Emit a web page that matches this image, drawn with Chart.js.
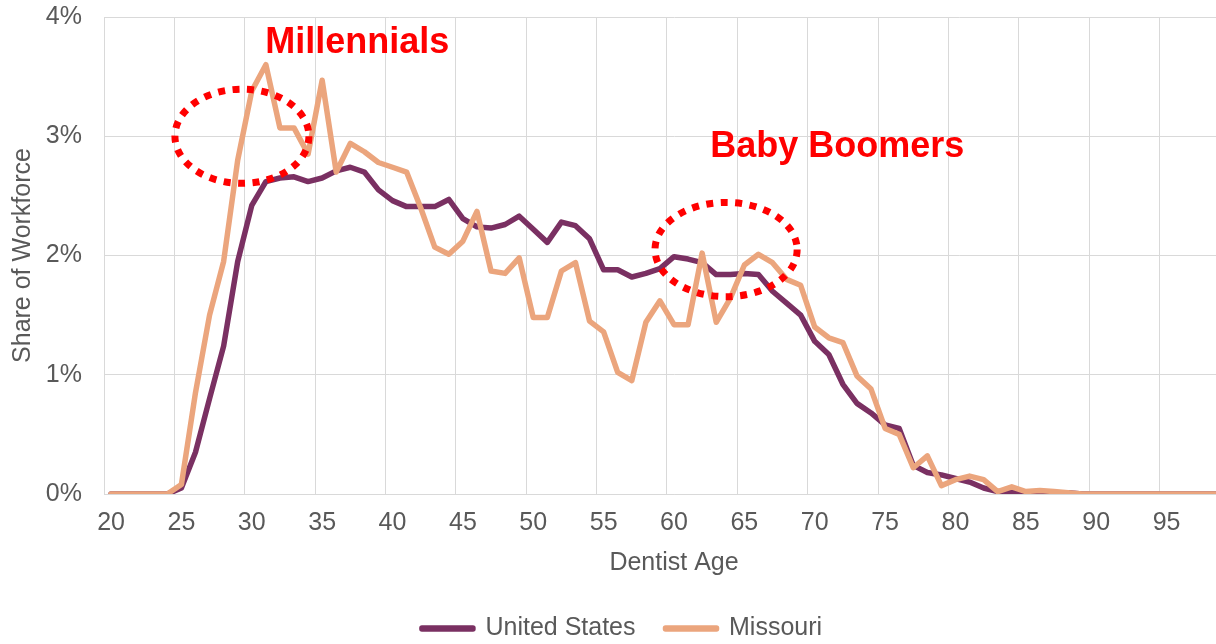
<!DOCTYPE html>
<html>
<head>
<meta charset="utf-8">
<script src="https://cdn.jsdelivr.net/npm/chart.js@4.4.1/dist/chart.umd.min.js"></script>
<style>
  html, body { margin: 0; padding: 0; background: #fff; overflow: hidden; }
  /* the source picture is cropped on the right and bottom, so the canvas is a bit larger than the view */
  #view { width: 1216px; height: 644px; overflow: hidden; }
  #wrap { width: 1244px; height: 651px; position: relative; }
</style>
</head>
<body>
<div id="view"><div id="wrap"><canvas id="dentistChart"></canvas></div></div>
<script>
  // ages 20..100, one category per year
  const ages = Array.from({ length: 81 }, (_, i) => String(20 + i));

  // share of workforce, in %
  const unitedStates = [
    0, 0, 0, 0, 0,
    0.05, 0.35, 0.80, 1.24, 1.95,
    2.42, 2.62, 2.65, 2.66, 2.62,
    2.65, 2.71, 2.74, 2.70, 2.55,
    2.46, 2.41, 2.41, 2.41, 2.47,
    2.31, 2.24, 2.23, 2.26, 2.33,
    2.22, 2.11, 2.28, 2.25, 2.14,
    1.88, 1.88, 1.82, 1.85, 1.89,
    1.99, 1.97, 1.94, 1.84, 1.84,
    1.85, 1.84, 1.70, 1.60, 1.50,
    1.28, 1.17, 0.92, 0.76, 0.68,
    0.58, 0.55, 0.24, 0.18, 0.16,
    0.13, 0.10, 0.05, 0.02, 0.02,
    0.01, 0.01, 0.01, 0.01, 0,
    0, 0, 0, 0, 0, 0, 0, 0, 0, 0, 0
  ];

  const missouri = [
    0, 0, 0, 0, 0,
    0.08, 0.85, 1.50, 1.95, 2.80,
    3.38, 3.60, 3.07, 3.07, 2.85,
    3.47, 2.70, 2.94, 2.87, 2.78,
    2.74, 2.70, 2.40, 2.07, 2.01,
    2.12, 2.37, 1.87, 1.85, 1.98,
    1.48, 1.48, 1.87, 1.94, 1.45,
    1.36, 1.02, 0.95, 1.44, 1.62,
    1.42, 1.42, 2.02, 1.44, 1.64,
    1.92, 2.01, 1.94, 1.80, 1.75,
    1.40, 1.31, 1.27, 0.99, 0.88,
    0.55, 0.50, 0.22, 0.32, 0.07,
    0.12, 0.15, 0.12, 0.02, 0.06,
    0.02, 0.03, 0.02, 0.01, 0,
    0, 0, 0, 0, 0, 0, 0, 0, 0, 0, 0
  ];

  const shareTicks = [0, 1, 2, 3, 4];

  // red callouts, placed in data units (age, share %)
  const notes = [
    { text: 'Millennials', age: 30.95, share: 3.78 },
    { text: 'Baby Boomers', age: 62.57, share: 2.91 }
  ];
  const rings = [
    { age: 29.3, share: 3.0, ageRadius: 4.76, shareRadius: 0.395 },
    { age: 63.7, share: 2.05, ageRadius: 5.05, shareRadius: 0.395 }
  ];

  const FONT = "'Liberation Sans', Arial, sans-serif";
  const GREY = '#595959';
  const GRID = '#d9d9d9';

  Chart.defaults.font.family = FONT;
  Chart.defaults.color = GREY;

  const calloutPlugin = {
    id: 'callouts',
    afterDatasetsDraw(chart) {
      const { ctx, scales: { x, y } } = chart;
      const step = x.getPixelForValue(1) - x.getPixelForValue(0);
      ctx.save();
      ctx.strokeStyle = '#ff0000';
      ctx.lineWidth = 7;
      ctx.setLineDash([7, 7.5]);
      rings.forEach(r => {
        ctx.beginPath();
        ctx.ellipse(
          x.getPixelForValue(r.age - 20),
          y.getPixelForValue(r.share),
          r.ageRadius * step,
          y.getPixelForValue(0) - y.getPixelForValue(r.shareRadius),
          0, 0, Math.PI * 2
        );
        ctx.stroke();
      });
      ctx.setLineDash([]);
      ctx.fillStyle = '#ff0000';
      ctx.font = 'bold 36px ' + FONT;
      ctx.textAlign = 'left';
      ctx.textBaseline = 'middle';
      notes.forEach(n => {
        ctx.fillText(n.text, x.getPixelForValue(n.age - 20), y.getPixelForValue(n.share));
      });
      ctx.restore();
    }
  };

  new Chart(document.getElementById('dentistChart'), {
    type: 'line',
    data: {
      labels: ages,
      datasets: [
        {
          label: 'United States',
          data: unitedStates,
          borderColor: '#7a3062',
          backgroundColor: '#7a3062',
          order: 1
        },
        {
          label: 'Missouri',
          data: missouri,
          borderColor: '#eba57d',
          backgroundColor: '#eba57d',
          order: 0
        }
      ]
    },
    options: {
      responsive: true,
      maintainAspectRatio: false,
      animation: false,
      layout: { padding: { top: 17, right: 0, bottom: 0, left: 0 } },
      elements: {
        line: { borderWidth: 5.5, tension: 0, borderJoinStyle: 'round', borderCapStyle: 'round' },
        point: { radius: 0 }
      },
      plugins: {
        tooltip: { enabled: false },
        legend: {
          position: 'bottom',
          labels: {
            font: { size: 25 },
            color: GREY,
            boxWidth: 51,
            boxHeight: 1,
            padding: 30,
            sort: (a, b) => a.datasetIndex - b.datasetIndex
          }
        }
      },
      scales: {
        x: {
          offset: true,
          afterFit: s => { s.height = 92; s.paddingLeft = 0; s.paddingRight = 0; },
          grid: {
            offset: true,
            drawTicks: false,
            color: c => Number(ages[c.index]) % 5 === 0 ? GRID : 'rgba(0,0,0,0)'
          },
          border: { color: GRID },
          ticks: {
            autoSkip: false,
            maxRotation: 0,
            minRotation: 0,
            padding: 14,
            font: { size: 25 },
            callback: (v, i) => Number(ages[i]) % 5 === 0 ? ages[i] : ''
          },
          title: {
            display: true,
            text: 'Dentist Age',
            font: { size: 25 },
            padding: { top: 0, bottom: 8 }
          }
        },
        y: {
          min: shareTicks[0],
          max: shareTicks[shareTicks.length - 1],
          afterFit: s => { s.width = 104; s.paddingTop = 0; s.paddingBottom = 0; },
          grid: { color: GRID, drawTicks: false },
          border: { color: GRID },
          ticks: {
            stepSize: 1,
            padding: 22,
            font: { size: 25 },
            callback: v => v + '%'
          },
          title: {
            display: true,
            text: 'Share of Workforce',
            font: { size: 25 },
            padding: { top: 8, bottom: 0 }
          }
        }
      }
    },
    plugins: [calloutPlugin]
  });
</script>
</body>
</html>
